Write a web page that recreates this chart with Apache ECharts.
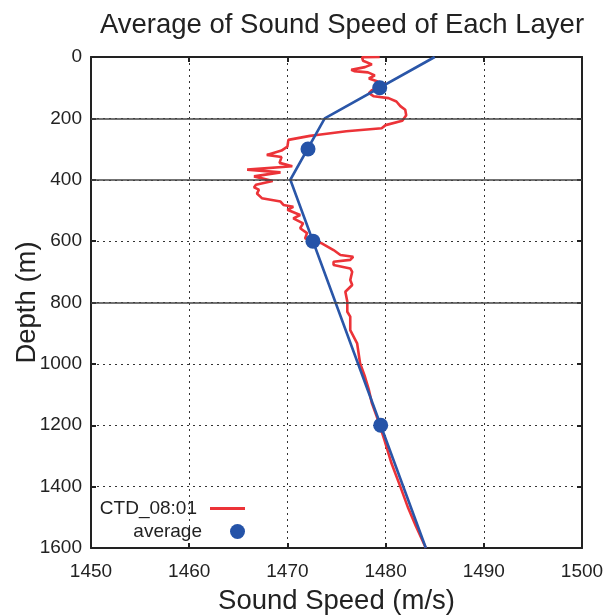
<!DOCTYPE html>
<html>
<head>
<meta charset="utf-8">
<script src="https://cdn.jsdelivr.net/npm/echarts@6/dist/echarts.min.js"></script>
<style>html,body{margin:0;padding:0;background:#fff}#c{width:603px;height:615px}</style>
</head>
<body>
<div id="c"></div>
<script>
// CTD profile (sound speed m/s vs depth m)
var ctdSpeed = [1479.4,1477.6,1477.7,1478.6,1477.9,1476.5,1476.8,1478.2,1478.9,1478.3,1479.2,1480.0,1479.5,1478.6,1478.3,1478.8,1480.3,1481.1,1481.5,1482.0,1482.1,1481.7,1480.0,1479.6,1476.0,1473.0,1472.3,1470.1,1470.0,1469.4,1467.9,1469.4,1469.6,1469.2,1470.5,1465.9,1469.3,1466.6,1468.5,1466.8,1466.6,1467.1,1466.9,1467.4,1469.3,1469.6,1470.6,1470.0,1471.3,1470.6,1471.6,1471.3,1472.0,1471.8,1472.5,1473.5,1474.7,1475.4,1476.7,1476.4,1474.7,1474.7,1476.4,1476.6,1476.4,1476.6,1475.9,1476.1,1476.1,1476.4,1476.4,1477.1,1477.4,1477.9,1478.3,1478.6,1479.1,1479.4,1479.9,1480.6,1481.5,1482.3,1483.1,1484.1];
var ctdDepth = [0,1,12,24,33,42,46,50,60,70,80,88,96,108,118,128,134,145,160,172,190,208,222,232,242,254,257,270,292,305,319,326,331,345,356,367,376,389,404,416,425,432,445,460,471,482,488,498,515,526,542,558,574,591,600,607,629,645,651,661,667,678,689,700,727,743,765,797,830,846,890,933,998,1042,1085,1128,1172,1200,1250,1324,1400,1470,1530,1600];
// Layer average line vertices
var avgLineSpeed = [1485.0,1473.8,1470.3,1484.1];
var avgLineDepth = [0,200,400,1600];
// Layer average points (layer mid-depths)
var avgPtSpeed = [1479.4,1472.1,1472.6,1479.5];
var avgPtDepth = [100,300,600,1200];
// Layer boundaries
var layerBounds = [200,400,800];
// Axis ticks
var xTicks = [1450,1460,1470,1480,1490,1500];
var yTicks = [0,200,400,600,800,1000,1200,1400,1600];

function pairs(a,b){return a.map(function(v,i){return [v,b[i]];});}
function plain(v){return String(v);}

var FONT = 'Liberation Sans, Arial, Helvetica, sans-serif';
var frame = '#222';
var chart = echarts.init(document.getElementById('c'), null, {renderer:'canvas'});
var axisCommon = {
  type:'value',
  axisLine:{show:true,onZero:false,lineStyle:{color:frame,width:2}},
  axisTick:{show:true,inside:true,length:5,lineStyle:{color:frame,width:2}},
  splitLine:{show:false}
};
chart.setOption({
  animation:false,
  backgroundColor:'#fff',
  title:{text:'Average of Sound Speed of Each Layer',left:337,textAlign:'center',top:6,
    textStyle:{fontFamily:FONT,fontSize:27.5,fontWeight:'normal',color:'#222'}},
  grid:{left:91,right:21,top:57,bottom:67,containLabel:false,outerBoundsMode:'none'},
  legend:[
    {data:[{name:'CTD_08:01',icon:'rect'}],orient:'vertical',right:353,top:494,align:'right',itemWidth:35,itemHeight:3,
     textStyle:{fontFamily:FONT,fontSize:19,color:'#222',padding:[0,8,0,0]}},
    {data:[{name:'average',icon:'circle'}],orient:'vertical',right:353,top:517,align:'right',itemWidth:35,itemHeight:15,
     textStyle:{fontFamily:FONT,fontSize:19,color:'#222',padding:[0,13,0,0]}}
  ],
  xAxis:[
    Object.assign({},axisCommon,{position:'bottom',min:xTicks[0],max:xTicks[xTicks.length-1],interval:10,
      name:'Sound Speed (m/s)',nameLocation:'middle',nameGap:39,nameMoveOverlap:false,
      nameTextStyle:{fontFamily:FONT,fontSize:27.5,color:'#222'},
      axisLabel:{fontFamily:FONT,fontSize:19,color:'#222',margin:14,formatter:plain},
      splitLine:{show:true,lineStyle:{color:'#333',width:1,type:[2,4]}}}),
    Object.assign({},axisCommon,{position:'top',min:1450,max:1500,interval:10,axisLabel:{show:false}})
  ],
  yAxis:[
    Object.assign({},axisCommon,{position:'left',inverse:true,min:yTicks[0],max:yTicks[yTicks.length-1],interval:200,
      name:'Depth (m)',nameLocation:'middle',nameGap:50,nameMoveOverlap:false,
      nameTextStyle:{fontFamily:FONT,fontSize:27.5,color:'#222'},
      axisLabel:{fontFamily:FONT,fontSize:19,color:'#222',margin:9,formatter:plain},
      splitLine:{show:true,lineStyle:{color:'#333',width:1,type:[2,4]}}}),
    Object.assign({},axisCommon,{position:'right',inverse:true,min:0,max:1600,interval:200,axisLabel:{show:false}})
  ],
  series:[
    {name:'boundaries',type:'line',data:[],silent:true,
     markLine:{silent:true,symbol:'none',label:{show:false},animation:false,
       lineStyle:{color:'#444',width:1.6,type:'solid'},
       data:layerBounds.map(function(d){return {yAxis:d};})}},
    {name:'CTD_08:01',type:'line',data:pairs(ctdSpeed,ctdDepth),symbol:'none',
     lineStyle:{color:'#ec3338',width:2.6},itemStyle:{color:'#ec3338'},z:3},
    {name:'avgline',type:'line',data:pairs(avgLineSpeed,avgLineDepth),symbol:'none',
     lineStyle:{color:'#2a56a8',width:2.6},itemStyle:{color:'#2a56a8'},z:4},
    {name:'average',type:'scatter',data:pairs(avgPtSpeed,avgPtDepth),symbolSize:15,
     itemStyle:{color:'#2553a8',opacity:1},z:5}
  ]
});
</script>
</body>
</html>
